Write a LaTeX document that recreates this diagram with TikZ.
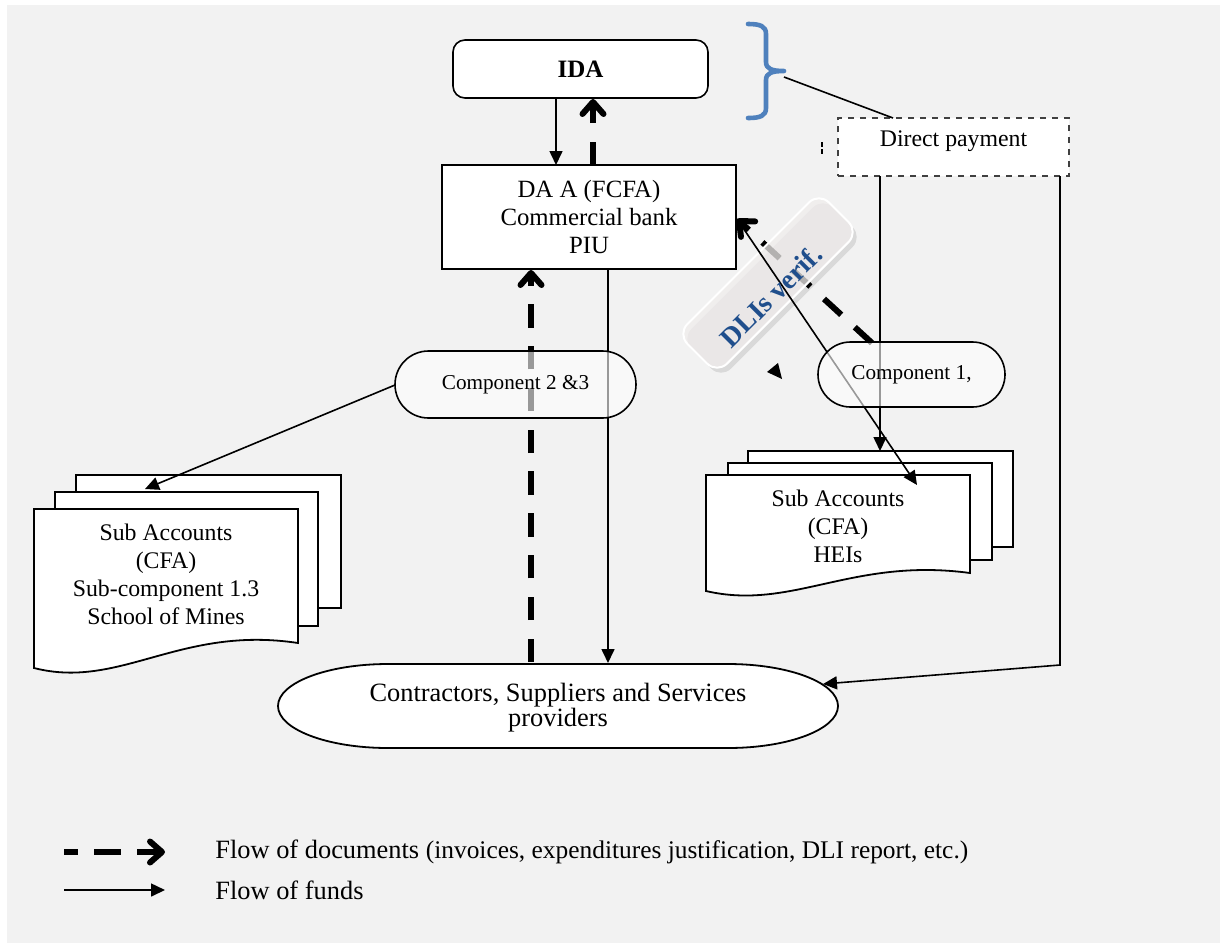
\documentclass[tikz,border=0pt]{standalone}
\usepackage{fontspec}
\setmainfont{Liberation Serif}
\usetikzlibrary{arrows.meta}
\definecolor{bg}{HTML}{F2F2F2}
\definecolor{braceblue}{HTML}{4F81BD}
\definecolor{dliblue}{HTML}{1F4E8C}
\definecolor{btnfill}{HTML}{F0EDEC}
\newcommand{\fsz}[2]{\fontsize{#1}{#2}\selectfont}
\begin{document}
\begin{tikzpicture}[x=0.5pt,y=-0.5pt,
  funds/.style={line width=0.8pt,-{Triangle[length=7pt,width=6.5pt]}},
  docflow/.style={line width=3pt,dash pattern=on 11.7pt off 9.2pt,-{Straight Barb[round,length=6pt,width=10.5pt]}},
  legflow/.style={line width=3pt,dash pattern=on 13.5pt off 8pt,dash phase=6.5pt,-{Straight Barb[round,length=6pt,width=10.5pt]}},
  plainbox/.style={draw,line width=0.8pt,fill=white,inner sep=0pt,align=center},
  compbox/.style={draw,line width=0.8pt,fill=white,fill opacity=0.6,text opacity=1,inner sep=0pt,align=center},
  docshape/.style={draw,line width=0.9pt,fill=white},
  txt/.style={inner sep=0pt,align=center},
]
\useasboundingbox (0,0) rectangle (1220,943);
\fill[bg] (7,5) rectangle (1220,943);

% ---------- top boxes ----------
\node[plainbox,rounded corners=6pt,minimum width=127.5pt,minimum height=29pt,font=\bfseries\fsz{12.5}{14}] (ida) at (580.5,69) {IDA};
\node[plainbox,line width=1pt,minimum width=147pt,minimum height=52pt,font=\fsz{12.4}{14}] (da) at (589,217) {DA A (FCFA)\\Commercial bank\\PIU};
\node[plainbox,dashed,draw=black!75,minimum width=115.5pt,minimum height=29pt] (dp) at (953.5,147) {};
\node[txt,font=\fsz{11.9}{14}] (dptext) at (953.5,141) {Direct payment};

% brace
\draw[braceblue,line width=2.3pt,line cap=round,line join=round]
  (748,24) .. controls (760,24) and (766,26) .. (766,34) -- (766,62)
  .. controls (766,69) and (772,71) .. (784,71)
  .. controls (772,71) and (766,73) .. (766,80) -- (766,108)
  .. controls (766,116) and (760,118) .. (748,118);
\coordinate (bracetip) at (784,77);
\coordinate (dptop) at (893,118);
\draw[line width=0.8pt] (bracetip) -- (dptop);
\draw[line width=0.6pt,dash pattern=on 2.5pt off 1.2pt] (822,142) -- (822,155);

% ---------- document stacks ----------
% left stack
\draw[docshape] (76,475) rectangle (341,608);
\draw[docshape] (55,492) rectangle (318,626);
\draw[docshape] (34,509) -- (298,509) -- (298,643)
  .. controls (180,625) and (120,690) .. (34,668) -- cycle;
\node[txt,font=\fsz{11.9}{14}] (leftacc) at (166,574) {Sub Accounts\\(CFA)\\Sub-component 1.3\\School of Mines};
% right stack
\draw[docshape] (748,451) rectangle (1013,547);
\draw[docshape] (728,463) rectangle (992,560);
\draw[docshape] (706,475) -- (970,475) -- (970,573)
  .. controls (852,557) and (792,611) .. (706,591) -- cycle;
\node[txt,font=\fsz{11.9}{14}] (rightacc) at (838,526.5) {Sub Accounts\\(CFA)\\HEIs};

% ---------- contractors ----------
\draw[line width=0.9pt,fill=white] (388,664) -- (728,664)
  .. controls (788.75,664) and (838,682.8) .. (838,706)
  .. controls (838,729.2) and (788.75,748) .. (728,748)
  -- (388,748)
  .. controls (327.25,748) and (278,729.2) .. (278,706)
  .. controls (278,682.8) and (327.25,664) .. (388,664) -- cycle;
\node[txt,font=\fsz{13.2}{12.5}] (cont) at (558,708) {Contractors, Suppliers and Services\\providers};

% ---------- coordinates on node borders ----------
\coordinate (idaIn) at (556,98);
\coordinate (daTopIn) at (556,165);
\coordinate (daTopOut) at (593,165);
\coordinate (idaOut) at (593,99);
\coordinate (contTopD) at (531,662);
\coordinate (daBotIn) at (531,270);
\coordinate (daBotOut) at (608,269);
\coordinate (contTopF) at (608,663);
\coordinate (c23left) at (395,385);
\coordinate (leftstackTop) at (145,489);
\coordinate (dpBotL) at (880,176);
\coordinate (rightstackTop) at (880,451);
\coordinate (dpBotR) at (1060,176);
\coordinate (corner) at (1060,665);
\coordinate (contRight) at (823,684);
\coordinate (c1top) at (872,343);
\coordinate (daRight) at (737,219);
\coordinate (heiEnd) at (917,485);

% ---------- connectors ----------
\draw[funds] (idaIn) -- (daTopIn);
\draw[docflow] (daTopOut) -- (idaOut);
\draw[docflow] (contTopD) -- (daBotIn);
\draw[funds] (daBotOut) -- (contTopF);
\draw[funds] (c23left) -- (leftstackTop);
\draw[funds] (dpBotL) -- (rightstackTop);
\draw[funds] (dpBotR) -- (corner) -- (contRight);

% DLIs verification button and its dashed arrow
\node[rotate=45,minimum width=100pt,minimum height=28pt,rounded corners=7pt,fill=black,opacity=0.10] (btnshadow) at (772,288) {};
\draw[docflow] (c1top) -- (daRight);
\node[rotate=45,minimum width=100pt,minimum height=28pt,rounded corners=7pt,fill=btnfill,fill opacity=0.75,draw=white,line width=1pt] (btn) at (768,283) {};
\draw[funds] (daRight) -- (heiEnd);
\node[rotate=45,txt,font=\bfseries\fsz{14}{16},text=dliblue] (dlis) at (771,296) {DLIs verif.};
\fill (767,372) -- (778,363) -- (782,379) -- cycle;

% component ovals (semi transparent, above the lines)
\node[compbox,rounded corners=16.75pt,minimum width=120.5pt,minimum height=33.5pt,font=\fsz{10.6}{12}] (c23) at (515.5,384.5) {Component 2 \&3};
\node[compbox,rounded corners=16.25pt,minimum width=93.5pt,minimum height=32.5pt,font=\fsz{10.6}{12}] (c1) at (911.5,374.5) {Component 1,};

% ---------- legend ----------
\coordinate (l1a) at (64,852);
\coordinate (l1b) at (165,852);
\draw[legflow] (l1a) -- (l1b);
\node[txt,anchor=west,font=\fsz{13.2}{15}] (leg1) at (215,852) {Flow of documents {\fsz{12.7}{14}(invoices, expenditures justification, DLI report, etc.)}};
\coordinate (l2a) at (64,890);
\coordinate (l2b) at (165,890);
\draw[funds] (l2a) -- (l2b);
\node[txt,anchor=west,font=\fsz{13.2}{15}] (leg2) at (215,890) {Flow of funds};
\end{tikzpicture}
\end{document}
